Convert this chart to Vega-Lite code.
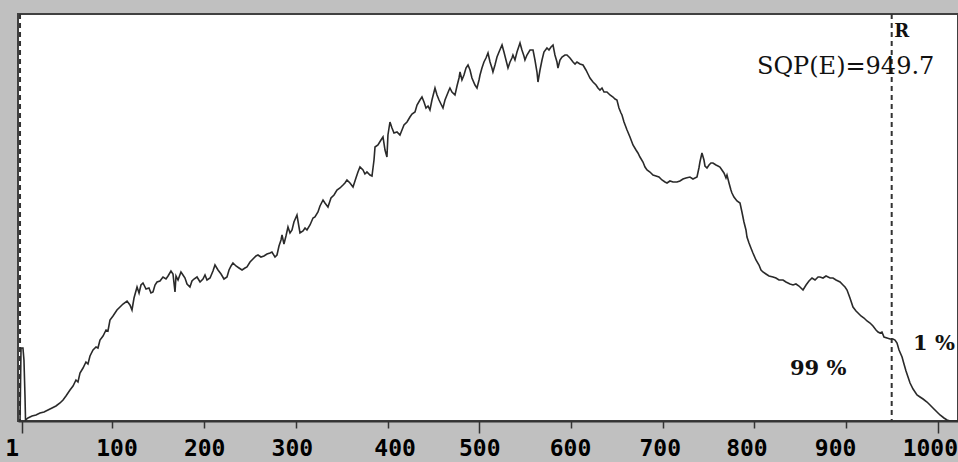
{
  "$schema": "https://vega.github.io/schema/vega-lite/v6.json",
  "width": 940,
  "height": 407,
  "autosize": {"type": "none"},
  "padding": {"left": 18, "top": 14, "right": 0, "bottom": 41},
  "background": "#c0c0c0",
  "config": {
    "view": {"fill": "white", "stroke": "#404040", "strokeWidth": 2}
  },
  "datasets": {
    "spectrum": [
      {"x": -0.8, "y": 0}, {"x": 0.3, "y": 73}, {"x": 2.4, "y": 73}, {"x": 3.5, "y": 61}, {"x": 4.6, "y": 26}, {"x": 5.2, "y": 1},
      {"x": 7.9, "y": 3}, {"x": 12.3, "y": 5}, {"x": 16.6, "y": 6}, {"x": 21.0, "y": 8}, {"x": 25.4, "y": 9}, {"x": 29.7, "y": 11},
      {"x": 34.1, "y": 13}, {"x": 38.4, "y": 15}, {"x": 42.8, "y": 18}, {"x": 46.1, "y": 21}, {"x": 49.3, "y": 25}, {"x": 53.7, "y": 31},
      {"x": 57.0, "y": 35}, {"x": 60.2, "y": 41}, {"x": 62.4, "y": 39}, {"x": 64.6, "y": 48}, {"x": 67.9, "y": 53}, {"x": 71.1, "y": 59},
      {"x": 73.3, "y": 57}, {"x": 75.5, "y": 65}, {"x": 78.8, "y": 71}, {"x": 82.1, "y": 74}, {"x": 84.2, "y": 73}, {"x": 86.4, "y": 81},
      {"x": 89.7, "y": 85}, {"x": 93.0, "y": 91}, {"x": 95.1, "y": 90}, {"x": 97.3, "y": 101}, {"x": 100.6, "y": 105}, {"x": 104.9, "y": 111},
      {"x": 108.2, "y": 114}, {"x": 111.5, "y": 117}, {"x": 115.9, "y": 120}, {"x": 119.1, "y": 116}, {"x": 121.3, "y": 111}, {"x": 123.5, "y": 123},
      {"x": 126.8, "y": 134}, {"x": 129.0, "y": 128}, {"x": 131.1, "y": 136}, {"x": 133.3, "y": 138}, {"x": 136.6, "y": 132}, {"x": 139.8, "y": 133},
      {"x": 142.0, "y": 128}, {"x": 144.2, "y": 129}, {"x": 146.4, "y": 136}, {"x": 148.6, "y": 139}, {"x": 151.8, "y": 140}, {"x": 155.1, "y": 144},
      {"x": 158.4, "y": 142}, {"x": 160.6, "y": 145}, {"x": 163.8, "y": 150}, {"x": 166.0, "y": 147}, {"x": 168.2, "y": 129}, {"x": 169.3, "y": 145},
      {"x": 171.5, "y": 141}, {"x": 174.7, "y": 149}, {"x": 176.9, "y": 146}, {"x": 179.1, "y": 143}, {"x": 181.3, "y": 137}, {"x": 184.5, "y": 134},
      {"x": 186.7, "y": 140}, {"x": 188.9, "y": 142}, {"x": 192.2, "y": 144}, {"x": 195.5, "y": 139}, {"x": 198.7, "y": 142}, {"x": 200.9, "y": 146},
      {"x": 203.1, "y": 141}, {"x": 206.4, "y": 143}, {"x": 209.6, "y": 150}, {"x": 211.8, "y": 156}, {"x": 215.1, "y": 151}, {"x": 218.4, "y": 147},
      {"x": 221.6, "y": 142}, {"x": 224.9, "y": 144}, {"x": 227.1, "y": 151}, {"x": 229.3, "y": 155}, {"x": 231.4, "y": 158}, {"x": 234.7, "y": 155},
      {"x": 238.0, "y": 153}, {"x": 241.3, "y": 151}, {"x": 244.5, "y": 153}, {"x": 246.7, "y": 154}, {"x": 250.0, "y": 159}, {"x": 253.2, "y": 162},
      {"x": 256.5, "y": 165}, {"x": 258.7, "y": 166}, {"x": 261.9, "y": 164}, {"x": 265.2, "y": 165}, {"x": 268.5, "y": 167}, {"x": 271.8, "y": 168},
      {"x": 273.9, "y": 169}, {"x": 277.2, "y": 164}, {"x": 279.4, "y": 166}, {"x": 281.6, "y": 175}, {"x": 283.8, "y": 181}, {"x": 284.9, "y": 186},
      {"x": 287.0, "y": 177}, {"x": 289.2, "y": 185}, {"x": 291.4, "y": 194}, {"x": 293.6, "y": 188}, {"x": 295.8, "y": 191}, {"x": 297.9, "y": 199},
      {"x": 301.2, "y": 206}, {"x": 303.4, "y": 194}, {"x": 304.5, "y": 188}, {"x": 307.8, "y": 190}, {"x": 310.0, "y": 193}, {"x": 312.1, "y": 191},
      {"x": 315.4, "y": 196}, {"x": 318.7, "y": 203}, {"x": 320.8, "y": 204}, {"x": 324.1, "y": 209}, {"x": 326.3, "y": 215}, {"x": 329.6, "y": 221},
      {"x": 331.7, "y": 218}, {"x": 335.0, "y": 214}, {"x": 338.3, "y": 223}, {"x": 341.6, "y": 226}, {"x": 344.8, "y": 231}, {"x": 348.1, "y": 233},
      {"x": 351.4, "y": 236}, {"x": 353.5, "y": 238}, {"x": 355.7, "y": 241}, {"x": 359.0, "y": 238}, {"x": 362.3, "y": 234}, {"x": 365.5, "y": 243},
      {"x": 367.7, "y": 249}, {"x": 369.9, "y": 254}, {"x": 373.2, "y": 251}, {"x": 375.3, "y": 247}, {"x": 377.5, "y": 249}, {"x": 380.8, "y": 246},
      {"x": 383.0, "y": 245}, {"x": 385.2, "y": 261}, {"x": 386.3, "y": 274}, {"x": 389.5, "y": 276}, {"x": 392.8, "y": 281}, {"x": 395.0, "y": 284},
      {"x": 397.2, "y": 271}, {"x": 399.3, "y": 264}, {"x": 400.4, "y": 286}, {"x": 402.6, "y": 299}, {"x": 404.8, "y": 293}, {"x": 407.0, "y": 288},
      {"x": 410.3, "y": 289}, {"x": 413.5, "y": 286}, {"x": 415.7, "y": 291}, {"x": 417.9, "y": 296}, {"x": 421.2, "y": 299}, {"x": 424.4, "y": 304},
      {"x": 426.6, "y": 307}, {"x": 429.9, "y": 309}, {"x": 432.1, "y": 316}, {"x": 435.3, "y": 321}, {"x": 437.5, "y": 324}, {"x": 439.7, "y": 319},
      {"x": 441.9, "y": 313}, {"x": 444.1, "y": 315}, {"x": 446.2, "y": 311}, {"x": 448.4, "y": 321}, {"x": 450.6, "y": 329}, {"x": 451.7, "y": 333},
      {"x": 453.9, "y": 326}, {"x": 456.1, "y": 321}, {"x": 458.2, "y": 317}, {"x": 460.4, "y": 313}, {"x": 462.6, "y": 321}, {"x": 464.8, "y": 326},
      {"x": 467.0, "y": 331}, {"x": 468.0, "y": 333}, {"x": 470.2, "y": 329}, {"x": 473.5, "y": 326}, {"x": 475.7, "y": 335}, {"x": 477.9, "y": 343},
      {"x": 479.0, "y": 349}, {"x": 481.1, "y": 341}, {"x": 483.3, "y": 346}, {"x": 485.5, "y": 353}, {"x": 487.7, "y": 356}, {"x": 489.9, "y": 351},
      {"x": 492.0, "y": 343}, {"x": 495.3, "y": 336}, {"x": 497.5, "y": 333}, {"x": 499.7, "y": 341}, {"x": 500.8, "y": 346}, {"x": 502.9, "y": 353},
      {"x": 505.1, "y": 359}, {"x": 507.3, "y": 363}, {"x": 509.5, "y": 368}, {"x": 511.7, "y": 359}, {"x": 513.8, "y": 353}, {"x": 514.9, "y": 349},
      {"x": 517.1, "y": 356}, {"x": 519.3, "y": 364}, {"x": 521.5, "y": 369}, {"x": 524.8, "y": 376}, {"x": 526.9, "y": 369}, {"x": 529.1, "y": 361},
      {"x": 531.3, "y": 353}, {"x": 533.5, "y": 359}, {"x": 535.6, "y": 363}, {"x": 536.7, "y": 366}, {"x": 538.9, "y": 361}, {"x": 541.1, "y": 369},
      {"x": 543.3, "y": 375}, {"x": 544.4, "y": 378}, {"x": 546.5, "y": 371}, {"x": 548.7, "y": 365}, {"x": 549.8, "y": 361}, {"x": 552.0, "y": 366},
      {"x": 555.3, "y": 371}, {"x": 558.6, "y": 371}, {"x": 560.7, "y": 361}, {"x": 562.9, "y": 349}, {"x": 564.0, "y": 339}, {"x": 566.2, "y": 351},
      {"x": 568.4, "y": 361}, {"x": 570.5, "y": 369}, {"x": 573.8, "y": 373}, {"x": 576.0, "y": 371}, {"x": 578.2, "y": 374}, {"x": 580.4, "y": 376},
      {"x": 582.5, "y": 366}, {"x": 584.7, "y": 359}, {"x": 585.8, "y": 353}, {"x": 588.0, "y": 361}, {"x": 590.2, "y": 364}, {"x": 593.4, "y": 366},
      {"x": 595.6, "y": 366}, {"x": 598.9, "y": 363}, {"x": 602.2, "y": 359}, {"x": 604.4, "y": 357}, {"x": 606.5, "y": 359}, {"x": 609.8, "y": 357},
      {"x": 613.1, "y": 356}, {"x": 616.3, "y": 351}, {"x": 618.5, "y": 347}, {"x": 620.7, "y": 343}, {"x": 624.0, "y": 339}, {"x": 627.3, "y": 336},
      {"x": 629.4, "y": 333}, {"x": 631.6, "y": 331}, {"x": 633.8, "y": 333}, {"x": 636.0, "y": 329}, {"x": 639.2, "y": 329}, {"x": 642.5, "y": 326},
      {"x": 645.8, "y": 324}, {"x": 648.0, "y": 322}, {"x": 650.1, "y": 321}, {"x": 652.3, "y": 313}, {"x": 654.5, "y": 308}, {"x": 655.6, "y": 306},
      {"x": 657.8, "y": 299}, {"x": 661.1, "y": 291}, {"x": 664.3, "y": 284}, {"x": 667.6, "y": 276}, {"x": 670.9, "y": 271}, {"x": 673.0, "y": 268},
      {"x": 675.2, "y": 264}, {"x": 678.5, "y": 259}, {"x": 680.7, "y": 254}, {"x": 682.9, "y": 251}, {"x": 686.1, "y": 249}, {"x": 689.4, "y": 246},
      {"x": 692.7, "y": 245}, {"x": 695.9, "y": 244}, {"x": 699.2, "y": 241}, {"x": 702.5, "y": 239}, {"x": 704.7, "y": 238}, {"x": 707.9, "y": 240},
      {"x": 711.2, "y": 239}, {"x": 715.6, "y": 239}, {"x": 718.8, "y": 240}, {"x": 722.1, "y": 242}, {"x": 725.4, "y": 243}, {"x": 729.7, "y": 244},
      {"x": 733.0, "y": 242}, {"x": 737.4, "y": 244}, {"x": 739.5, "y": 253}, {"x": 740.6, "y": 259}, {"x": 742.8, "y": 268}, {"x": 745.0, "y": 261},
      {"x": 746.1, "y": 255}, {"x": 748.3, "y": 253}, {"x": 750.5, "y": 256}, {"x": 752.6, "y": 258}, {"x": 754.8, "y": 258}, {"x": 758.1, "y": 256},
      {"x": 760.3, "y": 255}, {"x": 762.4, "y": 254}, {"x": 764.6, "y": 251}, {"x": 766.8, "y": 248}, {"x": 769.0, "y": 243}, {"x": 770.1, "y": 246},
      {"x": 772.3, "y": 238}, {"x": 774.4, "y": 231}, {"x": 775.5, "y": 228}, {"x": 777.7, "y": 224}, {"x": 781.0, "y": 220}, {"x": 784.3, "y": 218},
      {"x": 786.4, "y": 209}, {"x": 788.6, "y": 199}, {"x": 790.8, "y": 191}, {"x": 791.9, "y": 184}, {"x": 794.1, "y": 178}, {"x": 796.2, "y": 173},
      {"x": 798.4, "y": 168}, {"x": 801.7, "y": 161}, {"x": 805.0, "y": 156}, {"x": 807.2, "y": 151}, {"x": 809.3, "y": 149}, {"x": 812.6, "y": 147},
      {"x": 815.9, "y": 145}, {"x": 820.3, "y": 144}, {"x": 823.5, "y": 143}, {"x": 826.8, "y": 141}, {"x": 831.2, "y": 141}, {"x": 834.4, "y": 139},
      {"x": 838.8, "y": 137}, {"x": 842.1, "y": 136}, {"x": 845.3, "y": 137}, {"x": 848.6, "y": 135}, {"x": 853.0, "y": 131}, {"x": 856.3, "y": 136},
      {"x": 859.5, "y": 140}, {"x": 862.8, "y": 143}, {"x": 866.1, "y": 141}, {"x": 869.4, "y": 144}, {"x": 871.5, "y": 144}, {"x": 874.8, "y": 143},
      {"x": 878.1, "y": 145}, {"x": 882.5, "y": 143}, {"x": 885.7, "y": 143}, {"x": 889.0, "y": 141}, {"x": 893.4, "y": 139}, {"x": 896.6, "y": 136},
      {"x": 898.8, "y": 134}, {"x": 901.0, "y": 131}, {"x": 904.2, "y": 123}, {"x": 907.5, "y": 114}, {"x": 910.8, "y": 110}, {"x": 913.0, "y": 108},
      {"x": 916.2, "y": 105}, {"x": 919.5, "y": 103}, {"x": 922.8, "y": 100}, {"x": 926.1, "y": 98}, {"x": 929.3, "y": 95}, {"x": 932.6, "y": 91},
      {"x": 934.8, "y": 89}, {"x": 937.0, "y": 88}, {"x": 939.1, "y": 89}, {"x": 941.3, "y": 84}, {"x": 944.6, "y": 83}, {"x": 947.9, "y": 82},
      {"x": 951.1, "y": 82}, {"x": 953.3, "y": 81}, {"x": 955.5, "y": 78}, {"x": 957.7, "y": 71}, {"x": 961.0, "y": 64}, {"x": 963.1, "y": 57},
      {"x": 965.3, "y": 50}, {"x": 967.5, "y": 44}, {"x": 969.7, "y": 38}, {"x": 973.0, "y": 32}, {"x": 977.3, "y": 26}, {"x": 980.6, "y": 24},
      {"x": 983.9, "y": 22}, {"x": 988.2, "y": 19}, {"x": 991.5, "y": 16}, {"x": 994.7, "y": 13}, {"x": 999.1, "y": 9}, {"x": 1002.4, "y": 6},
      {"x": 1006.7, "y": 3}, {"x": 1010.0, "y": 1}, {"x": 1013.3, "y": 0}, {"x": 1022.0, "y": 0}
    ],
    "markers": [{"x": -0.8}, {"x": 949.7}],
    "sqp": [{"x": 802.8, "y": 347, "label": "SQP(E)=949.7"}],
    "rlabel": [{"x": 952.5, "y": 384, "label": "R"}],
    "pct": [{"x": 838.8, "y": 46, "label": "99 %"}, {"x": 973.0, "y": 71, "label": "1 %"}]
  },
  "layer": [
    {
      "data": {"name": "markers"},
      "mark": {"type": "rule", "stroke": "#333333", "strokeWidth": 2, "strokeDash": [5, 4]},
      "encoding": {
        "x": {"field": "x", "type": "quantitative", "scale": {"domain": [-3, 1022], "nice": false, "zero": false}}
      }
    },
    {
      "data": {"name": "spectrum"},
      "mark": {"type": "line", "stroke": "#2a2a2a", "strokeWidth": 1.6, "clip": true},
      "encoding": {
        "x": {
          "field": "x", "type": "quantitative",
          "scale": {"domain": [-3, 1022], "nice": false, "zero": false},
          "axis": {
            "title": null,
            "grid": false,
            "format": "d",
            "values": [1, 100, 200, 300, 400, 500, 600, 700, 800, 900, 1000],
            "domainColor": "#333333",
            "domainWidth": 2,
            "tickColor": "#333333",
            "tickWidth": 1.5,
            "tickSize": {"condition": {"test": "datum.value == 1 || datum.value == 500 || datum.value == 1000", "value": 12}, "value": 7},
            "labelFont": "DejaVu Sans Mono",
            "labelFontWeight": "bold",
            "labelFontSize": 23,
            "labelColor": "#000000",
            "labelPadding": {"condition": {"test": "datum.value == 1 || datum.value == 500 || datum.value == 1000", "value": 4}, "value": 9},
            "labelFlush": false,
            "labelAlign": {"condition": {"test": "datum.value == 1", "value": "right"}, "value": "center"},
            "labelOffset": {
              "condition": [
                {"test": "datum.value == 1", "value": -3},
                {"test": "datum.value == 100", "value": 4},
                {"test": "datum.value == 300", "value": -4},
                {"test": "datum.value == 400", "value": 7},
                {"test": "datum.value == 600", "value": -1},
                {"test": "datum.value == 700", "value": -3},
                {"test": "datum.value == 800", "value": -8},
                {"test": "datum.value == 900", "value": -11},
                {"test": "datum.value == 1000", "value": -8}
              ],
              "value": 0
            }
          }
        },
        "y": {"field": "y", "type": "quantitative", "scale": {"domain": [0, 407], "nice": false}, "axis": null}
      }
    },
    {
      "data": {"name": "sqp"},
      "mark": {"type": "text", "align": "left", "baseline": "alphabetic", "font": "DejaVu Serif", "fontSize": 24, "color": "#111111"},
      "encoding": {
        "x": {"field": "x", "type": "quantitative"},
        "y": {"field": "y", "type": "quantitative"},
        "text": {"field": "label"}
      }
    },
    {
      "data": {"name": "rlabel"},
      "mark": {"type": "text", "align": "left", "baseline": "alphabetic", "font": "DejaVu Serif", "fontWeight": "bold", "fontSize": 18, "color": "#111111"},
      "encoding": {
        "x": {"field": "x", "type": "quantitative"},
        "y": {"field": "y", "type": "quantitative"},
        "text": {"field": "label"}
      }
    },
    {
      "data": {"name": "pct"},
      "mark": {"type": "text", "align": "left", "baseline": "alphabetic", "font": "DejaVu Serif", "fontWeight": "bold", "fontSize": 21, "color": "#111111"},
      "encoding": {
        "x": {"field": "x", "type": "quantitative"},
        "y": {"field": "y", "type": "quantitative"},
        "text": {"field": "label"}
      }
    }
  ]
}
